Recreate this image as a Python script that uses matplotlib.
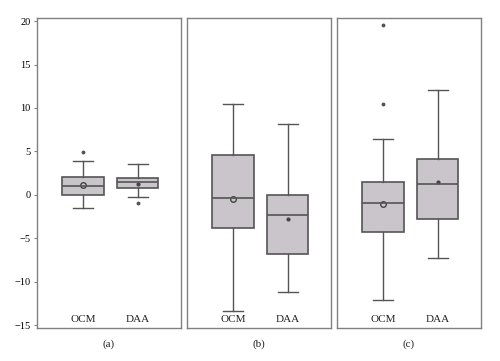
import matplotlib
matplotlib.use("Agg")
import matplotlib.pyplot as plt

# Box statistics: (whislo, q1, median, q3, whishi, mean, outliers)
panels = ["(a)", "(b)", "(c)"]
groups = ["OCM", "DAA"]

ocm_whislo = [-1.5, -13.4, -12.1]
ocm_q1 = [0.0, -3.8, -4.3]
ocm_med = [1.0, -0.4, -0.95]
ocm_q3 = [2.0, 4.55, 1.5]
ocm_whishi = [3.9, 10.45, 6.4]
ocm_mean = [1.1, -0.45, -1.0]
ocm_fliers = [[4.9], [], [19.5, 10.5]]

daa_whislo = [-0.3, -11.2, -7.3]
daa_q1 = [0.8, -6.85, -2.75]
daa_med = [1.5, -2.35, 1.3]
daa_q3 = [1.9, 0.0, 4.15]
daa_whishi = [3.5, 8.15, 12.1]
daa_mean = [1.3, -2.8, 1.45]
daa_fliers = [[-0.9], [], []]

yticks = [-15, -10, -5, 0, 5, 10, 15, 20]

plt.rcParams['font.family'] = ['Liberation Serif', 'DejaVu Serif']

line_c = '#555555'
fill_c = '#c9c5ca'
spine_c = '#808080'

fig = plt.figure(figsize=(5, 3.61), dpi=100)
lefts = [0.074, 0.374, 0.674]

for i in range(3):
    ax = fig.add_axes([lefts[i], 0.091, 0.288, 0.859])
    stats = [
        dict(whislo=ocm_whislo[i], q1=ocm_q1[i], med=ocm_med[i], q3=ocm_q3[i],
             whishi=ocm_whishi[i], mean=ocm_mean[i], fliers=ocm_fliers[i]),
        dict(whislo=daa_whislo[i], q1=daa_q1[i], med=daa_med[i], q3=daa_q3[i],
             whishi=daa_whishi[i], mean=daa_mean[i], fliers=daa_fliers[i]),
    ]
    ax.bxp(stats, positions=[1, 2], widths=0.75, patch_artist=True,
           showmeans=False, capwidths=0.36,
           boxprops=dict(facecolor=fill_c, edgecolor=line_c, linewidth=1.2),
           medianprops=dict(color=line_c, linewidth=1.2),
           whiskerprops=dict(color=line_c, linewidth=1.0),
           capprops=dict(color=line_c, linewidth=1.0),
           flierprops=dict(marker='o', markersize=1.8, markerfacecolor=line_c,
                           markeredgecolor=line_c))
    # means: open circle for OCM, small dot for DAA
    ax.plot(1, ocm_mean[i], 'o', ms=4, mfc='none', mec='#444444', mew=1.0)
    ax.plot(2, daa_mean[i], 'o', ms=2, color='#444444')

    ax.set_xlim(0.16, 2.79)
    ax.set_ylim(-15.35, 20.35)
    ax.set_xticks([])
    for s in ax.spines.values():
        s.set_color(spine_c)
        s.set_linewidth(1.0)
    if i == 0:
        ax.set_yticks(yticks)
        ax.set_yticklabels([str(t).replace('-', '\u2212') for t in yticks], fontsize=7.5)
        ax.tick_params(axis='y', length=2.5, color=spine_c, pad=2)
    else:
        ax.set_yticks([])
    for x, g in zip([1, 2], groups):
        ax.text(x, -14.9, g, ha='center', va='bottom', fontsize=8, color='#222222')
    ax.text(0.5, -0.035, panels[i], transform=ax.transAxes, ha='center', va='top',
            fontsize=8, color='#222222')

fig.savefig('out.png', dpi=100, facecolor='white')
